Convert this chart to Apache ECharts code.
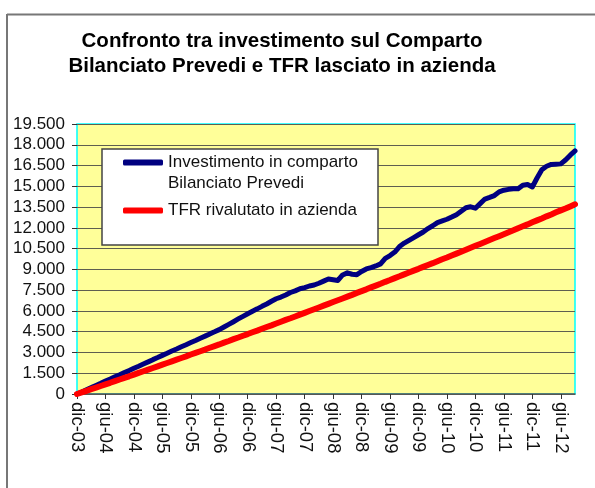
<!DOCTYPE html>
<html>
<head>
<meta charset="utf-8">
<script src="https://cdn.jsdelivr.net/npm/echarts@6/dist/echarts.min.js"></script>
<style>
  html, body { margin: 0; padding: 0; background: #fff; }
  #chart { width: 595px; height: 488px; }
</style>
</head>
<body>
<div id="chart"></div>
<script>
// nomi dei mesi e intervallo dic-03 .. set-12
var mesi = ['gen','feb','mar','apr','mag','giu','lug','ago','set','ott','nov','dic'];
var categorie = [];
for (var k = 0; k < 106; k++) {
  var m = (11 + k) % 12;
  var a = 3 + Math.floor((11 + k) / 12);
  categorie.push(mesi[m] + '-' + (a < 10 ? '0' + a : a));
}

var nomeComparto = 'Investimento in comparto\nBilanciato Prevedi';
var nomeTfr = 'TFR rivalutato in azienda';

// valori
var comparto = [
  0, 150, 310, 460, 620, 770, 930, 1080, 1240, 1390,
  1550, 1700, 1860, 2010, 2170, 2320, 2480, 2630, 2790, 2940,
  3100, 3250, 3410, 3560, 3720, 3870, 4030, 4180, 4340, 4490,
  4650, 4840, 5030, 5220, 5420, 5610, 5800, 5980, 6150, 6330,
  6500, 6700, 6880, 7000, 7150, 7330, 7450, 7600, 7680, 7800,
  7870, 8000, 8150, 8300, 8250, 8200, 8600, 8750, 8650, 8620,
  8850, 9030, 9130, 9250, 9400, 9800, 10000, 10250, 10650, 10900,
  11100, 11300, 11500, 11700, 11950, 12150, 12380, 12500, 12620, 12780,
  12950, 13200, 13450, 13520, 13420, 13750, 14080, 14200, 14330, 14600,
  14720, 14780, 14820, 14820, 15080, 15130, 14950, 15600, 16200, 16450,
  16580, 16600, 16620, 16900, 17250, 17560
];
var tfr = [
  0, 115, 230, 350, 460, 580, 700, 810, 930, 1050,
  1170, 1280, 1400, 1520, 1640, 1760, 1880, 2000, 2120, 2240,
  2360, 2480, 2600, 2720, 2850, 2970, 3090, 3210, 3340, 3460,
  3580, 3710, 3830, 3960, 4080, 4210, 4330, 4460, 4580, 4710,
  4840, 4960, 5090, 5220, 5350, 5470, 5600, 5730, 5860, 5990,
  6120, 6250, 6380, 6510, 6640, 6770, 6900, 7030, 7160, 7300,
  7430, 7560, 7700, 7830, 7960, 8100, 8230, 8370, 8500, 8640,
  8770, 8910, 9040, 9180, 9320, 9450, 9590, 9730, 9860, 10000,
  10140, 10280, 10420, 10560, 10700, 10840, 10980, 11120, 11260, 11400,
  11540, 11680, 11820, 11970, 12110, 12250, 12400, 12540, 12680, 12830,
  12970, 13120, 13260, 13400, 13550, 13700
];

var font = 'Liberation Sans, Arial, sans-serif';

var myChart = echarts.init(document.getElementById('chart'));

var option = {
  animation: false,
  title: {
    text: 'Confronto tra investimento sul Comparto\nBilanciato Prevedi e TFR lasciato in azienda',
    left: 277,
    top: 24,
    textAlign: 'center',
    textStyle: {
      fontFamily: font,
      fontSize: 20.5,
      fontWeight: 'bold',
      lineHeight: 25,
      color: '#000'
    }
  },
  graphic: [
    // cornice in alto e a sinistra
    { type: 'line', z: 0, shape: { x1: 7, y1: 14.5, x2: 595, y2: 14.5 }, style: { stroke: '#777', lineWidth: 2 } },
    { type: 'line', z: 0, shape: { x1: 7, y1: 14, x2: 7, y2: 488 }, style: { stroke: '#777', lineWidth: 2 } },
    // riquadro legenda
    { type: 'rect', z: 50, shape: { x: 102, y: 149, width: 276, height: 96 },
      style: { fill: '#fff', stroke: '#444', lineWidth: 1.5 } }
  ],
  legend: {
    z: 60,
    orient: 'vertical',
    left: 123,
    top: 131,
    padding: 0,
    itemWidth: 40,
    itemHeight: 6,
    itemGap: 6,
    icon: 'roundRect',
    selectedMode: false,
    // riga vuota in testa: la prima riga del testo resta allineata al simbolo
    formatter: function (name) {
      return name === nomeComparto ? '\n' + name : name;
    },
    textStyle: { fontFamily: font, fontSize: 17, lineHeight: 21, color: '#111' },
    data: [nomeComparto, nomeTfr]
  },
  grid: {
    left: 77,
    right: 20,
    top: 124,
    bottom: 94,
    show: true,
    backgroundColor: '#FFFF99',
    borderColor: '#00FFFF',
    borderWidth: 1.5
  },
  xAxis: {
    type: 'category',
    data: categorie,
    boundaryGap: false,
    axisLine: { lineStyle: { color: '#555', width: 1.5 } },
    axisTick: { interval: 5, length: 5, lineStyle: { color: '#333' } },
    axisLabel: {
      interval: 5,
      rotate: -90,
      margin: 8,
      fontFamily: font,
      fontSize: 18.5,
      color: '#111'
    },
    splitLine: { show: false }
  },
  yAxis: {
    type: 'value',
    min: 0,
    max: 19500,
    interval: 1500,
    axisLine: { show: false },
    axisTick: { show: true, length: 5, lineStyle: { color: '#333' } },
    axisLabel: {
      margin: 12,
      fontFamily: font,
      fontSize: 17,
      color: '#111',
      formatter: function (v) {
        return String(v).replace(/\B(?=(\d{3})+(?!\d))/g, '.');
      }
    },
    splitLine: { lineStyle: { color: '#5f5f50', width: 1 } }
  },
  series: [
    {
      name: nomeComparto,
      type: 'line',
      data: comparto,
      showSymbol: false,
      symbol: 'none',
      color: '#000080',
      lineStyle: { color: '#000080', width: 5, cap: 'round', join: 'round' }
    },
    {
      name: nomeTfr,
      type: 'line',
      data: tfr,
      showSymbol: false,
      symbol: 'none',
      color: '#FF0000',
      lineStyle: { color: '#FF0000', width: 6, cap: 'round', join: 'round' }
    }
  ]
};

myChart.setOption(option);
</script>
</body>
</html>
